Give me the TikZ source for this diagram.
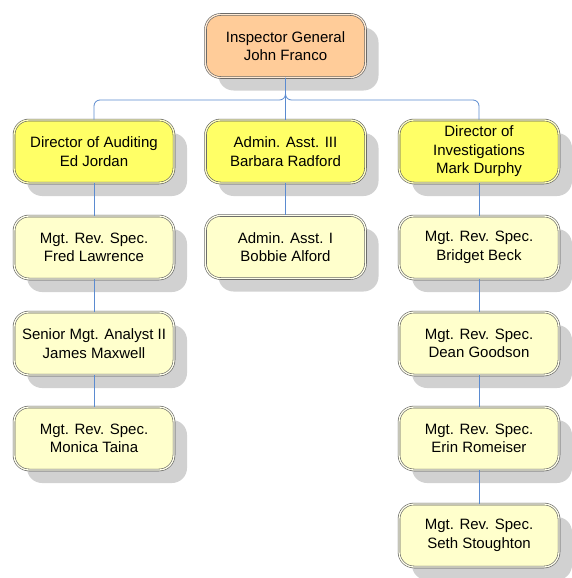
\documentclass[tikz,border=0pt]{standalone}
\usepackage{fontspec}
\setmainfont{Liberation Sans}
\usetikzlibrary{shadows}
\definecolor{peach}{RGB}{255,204,153}
\definecolor{brightyellow}{RGB}{255,255,102}
\definecolor{paleyellow}{RGB}{255,255,204}
\definecolor{linkblue}{RGB}{91,139,208}
\tikzset{
  box/.style={draw=black!65, fill=#1, double=#1!40, double distance=1.3pt, line width=0.6pt,
    rounded corners=15pt, minimum width=160pt, minimum height=63pt, align=center,
    font=\fontsize{15}{18.5}\selectfont,
    drop shadow={shadow xshift=13pt, shadow yshift=-13pt, fill=black!18, opacity=1}},
  link/.style={draw=linkblue, line width=0.8pt, rounded corners=6pt}
}
\begin{document}
\begin{tikzpicture}[x=1pt,y=-1pt]
\useasboundingbox (0,0) rectangle (571,578);
\node[box=peach] (ig) at (285.5,46) {Inspector General\\John Franco};
\node[box=brightyellow] (aud) at (94,151.5) {Director of Auditing\\Ed Jordan};
\node[box=brightyellow] (asst3) at (285.5,151.5) {Admin. Asst. III\\Barbara Radford};
\node[box=brightyellow] (inv) at (479,151.5) {Director of\\Investigations\\Mark Durphy};
\node[box=paleyellow] (lawrence) at (94,247.5) {Mgt. Rev. Spec.\\Fred Lawrence};
\node[box=paleyellow] (maxwell) at (94,343.5) {Senior Mgt. Analyst II\\James Maxwell};
\node[box=paleyellow] (taina) at (94,438.5) {Mgt. Rev. Spec.\\Monica Taina};
\node[box=paleyellow] (alford) at (285.5,247) {Admin. Asst. I\\Bobbie Alford};
\node[box=paleyellow] (beck) at (479,247.5) {Mgt. Rev. Spec.\\Bridget Beck};
\node[box=paleyellow] (goodson) at (479,343.5) {Mgt. Rev. Spec.\\Dean Goodson};
\node[box=paleyellow] (romeiser) at (479,438.5) {Mgt. Rev. Spec.\\Erin Romeiser};
\node[box=paleyellow] (stoughton) at (479,535.5) {Mgt. Rev. Spec.\\Seth Stoughton};
\coordinate (bus) at (285.5,100);
\draw[link] (ig.south) -- (asst3.north);
\draw[link] (aud.north) |- (bus) -- (ig.south);
\draw[link] (inv.north) |- (bus) -- (ig.south);
\draw[link] (aud) -- (lawrence);
\draw[link] (lawrence) -- (maxwell);
\draw[link] (maxwell) -- (taina);
\draw[link] (asst3) -- (alford);
\draw[link] (inv) -- (beck);
\draw[link] (beck) -- (goodson);
\draw[link] (goodson) -- (romeiser);
\draw[link] (romeiser) -- (stoughton);
\end{tikzpicture}
\end{document}
